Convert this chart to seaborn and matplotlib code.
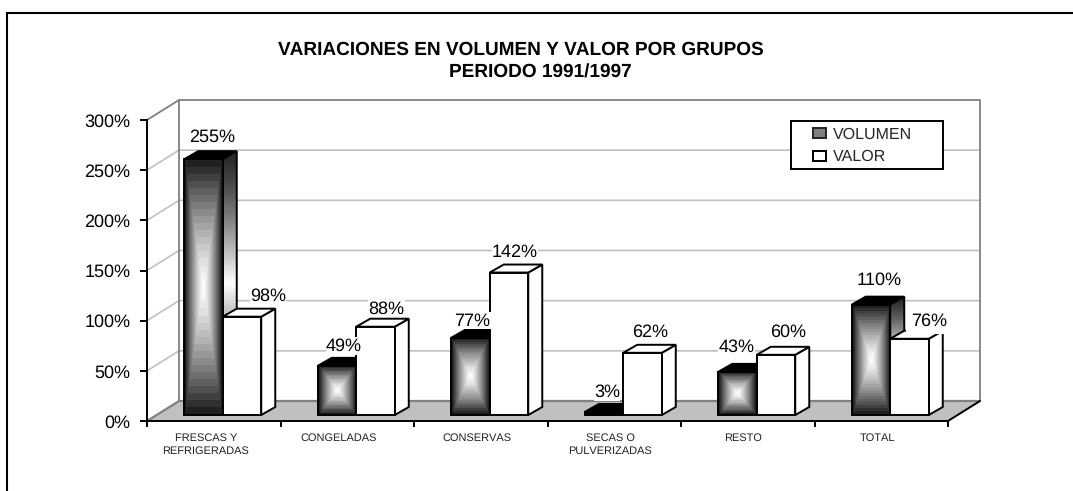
import numpy as np
import pandas as pd
import matplotlib
matplotlib.use('Agg')
import matplotlib.pyplot as plt
from matplotlib.patches import Polygon, Rectangle, Patch
from matplotlib.transforms import Affine2D
import seaborn as sns

grupos = ['FRESCAS Y\nREFRIGERADAS', 'CONGELADAS', 'CONSERVAS',
          'SECAS O\nPULVERIZADAS', 'RESTO', 'TOTAL']
volumen = [255, 49, 77, 3, 43, 110]
valor = [98, 88, 142, 62, 60, 76]
y_ticks = [0, 50, 100, 150, 200, 250, 300]

# hand placement of the labels, in pixels from the top of each bar
vol_nudge = [(9, 22), (7, 20), (2, 17), (3, 20), (-1, 25), (8, 24)]
val_nudge = [(26, 21), (11, 18), (6, 20), (8, 21), (12, 23), (20, 18)]
cat_nudge = [-8, -9, -4, -4, -5, -4]

df = pd.DataFrame({
    'grupo': grupos * 2,
    'pct': volumen + valor,
    'serie': ['VOLUMEN'] * 6 + ['VALOR'] * 6,
})

sns.set_theme(style='white')
plt.rcParams['font.family'] = ['Liberation Sans', 'DejaVu Sans']
plt.rcParams['text.hinting'] = 'no_hinting'
plt.rcParams['text.hinting_factor'] = 1

W, H = 1073, 491
fig = plt.figure(figsize=(W / 100, H / 100), dpi=100)
ax = fig.add_axes([147 / W, (H - 421) / H, 801 / W, 301 / H])
ax.patch.set_alpha(0)

LW = 1.4
sns.barplot(df, x='grupo', y='pct', hue='serie', width=0.577, ax=ax, legend=False,
            palette={'VOLUMEN': '#808080', 'VALOR': 'white'},
            edgecolor='black', linewidth=LW, saturation=1)

ax.set_xlim(-0.5, 5.5)
ax.set_ylim(0, 300)
ux = 6 / 801   # data units for one pixel
uy = 300 / 301


def add_poly(pts, **kw):
    p = Polygon(pts, clip_on=False, **kw)
    ax.add_patch(p)
    return p


# walls and floor
dx, dy = 32 * ux, 20 * uy
x0, x1 = -0.5, 5.5
add_poly([(x0, 0), (x1, 0), (x1 + dx, dy), (x0 + dx, dy)],
         fc='#c0c0c0', ec='none', zorder=1)
for v in y_ticks[1:-1]:
    ax.plot([x0, x0 + dx, x1 + dx], [v, v + dy, v + dy], color='#c0c0c0',
            lw=1.2, clip_on=False, zorder=1.2, solid_joinstyle='miter')
ax.plot([x0, x0 + dx, x1 + dx, x1 + dx], [300, 300 + dy, 300 + dy, dy],
        color='#808080', lw=1.3, clip_on=False, zorder=1.3)
ax.plot([x0, x0 + dx, x1 + dx], [0, dy, dy], color='#808080', lw=1.6,
        clip_on=False, zorder=1.3)
ax.plot([x0 + dx, x0 + dx], [dy, 300 + dy], color='#808080', lw=1.3,
        clip_on=False, zorder=1.3)
ax.plot([x1, x1 + dx], [0, dy], color='black', lw=LW, clip_on=False, zorder=1.4)

# bars sit a little into the floor, with a shallow 3d side and top
sx, sy = 9 * ux, 6 * uy
bx, by = 14 * ux, 8 * uy


def rect_gradient(h):
    n = max(int(h), 12)
    u = np.abs(np.linspace(-1, 1, 76))[None, :]
    v = np.abs(np.linspace(-1, 1, n * 2))[:, None]
    d = np.maximum(u, v)
    d = np.ceil(d * 18) / 18
    return 1 - 0.87 * d ** 1.3


def side_gradient(h):
    t = np.linspace(0, 1, max(int(h), 12))[:, None]
    s = 1 - np.abs(2 * t - 1)
    return 0.15 + 0.85 * s ** 1.3


vol_bars, val_bars = ax.containers[:2]
z = 3
for i in range(len(grupos)):
    for bar, is_vol in ((vol_bars[i], True), (val_bars[i], False)):
        x, w, h = bar.get_x() + sx, bar.get_width(), bar.get_height()
        y = sy
        top = y + h
        side = add_poly([(x + w, y), (x + w + bx, y + by), (x + w + bx, top + by), (x + w, top)],
                        fc='white', ec='black', lw=LW, zorder=z, joinstyle='miter')
        add_poly([(x, top), (x + bx, top + by), (x + w + bx, top + by), (x + w, top)],
                 fc='black' if is_vol else 'white', ec='black', lw=LW, zorder=z,
                 joinstyle='miter')
        bar.set_x(x)
        bar.set_y(y)
        bar.set_clip_on(False)
        bar.set_zorder(z + 0.4)
        bar.set_joinstyle('miter')
        bar.set_facecolor('white')
        if is_vol:
            if h < 8:
                bar.set_facecolor('black')   # too short to show any gradient
            else:
                bar.set_facecolor('none')
                im = ax.imshow(side_gradient(h), extent=(x + w, x + w + bx, y, top + by),
                               cmap='gray', vmin=0, vmax=1, aspect='auto', zorder=z + 0.1)
                im.set_clip_path(side)
                side.set_facecolor('none')
                side.set_zorder(z + 0.2)
                ax.imshow(rect_gradient(h), extent=(x, x + w, y, top), cmap='gray',
                          vmin=0, vmax=1, aspect='auto', zorder=z + 0.3,
                          interpolation='nearest', clip_on=False)
        z += 1

ax.set_xlim(-0.5, 5.5)
ax.set_ylim(0, 300)

# data labels, opaque like the original
for bars, vals, nudges in ((vol_bars, volumen, vol_nudge), (val_bars, valor, val_nudge)):
    for bar, v, n in zip(bars, vals, nudges):
        t = ax.annotate(f'{v}%', xy=(bar.get_x() + bar.get_width() / 2, bar.get_y() + bar.get_height()),
                        xytext=n, textcoords='offset pixels', ha='center', va='center',
                        fontsize=12.8, color='black', zorder=40, annotation_clip=False,
                        bbox=dict(fc='white', ec='none', pad=0.3))
# the 76% label hides the back corner of its bar
t.set_bbox(dict(boxstyle='square,pad=0.3', fc='white', ec='none'))

# axes
for s in ['top', 'right']:
    ax.spines[s].set_visible(False)
for s in ['left', 'bottom']:
    ax.spines[s].set_color('black')
    ax.spines[s].set_linewidth(LW)
    ax.spines[s].set_zorder(2)
ax.set_xlabel('')
ax.set_ylabel('')
ax.set_yticks(y_ticks)
ax.set_yticklabels([f'{v}%' for v in y_ticks], fontsize=12.7, color='black')
ax.tick_params(axis='y', left=True, length=5, width=LW, pad=7, color='black')
ax.set_xticks(range(6))
ax.set_xticklabels(grupos, fontsize=7.7, color='#222222', linespacing=1.3)
ax.set_xticks(np.arange(-0.5, 6, 1), minor=True)
ax.tick_params(axis='x', which='major', bottom=False, length=0, pad=8.5)
ax.tick_params(axis='x', which='minor', bottom=True, length=4.5, width=LW, color='black')
for lab, n in zip(ax.get_xticklabels(), cat_nudge):
    lab.set_transform(lab.get_transform() + Affine2D().translate(n, 0))

# legend
fig.add_artist(Rectangle((791 / W, (H - 169) / H), 152 / W, 48 / H, fc='white', ec='black',
                         lw=LW, transform=fig.transFigure, zorder=50))
lg = fig.legend(handles=[Patch(fc='#808080', ec='#222222', lw=LW), Patch(fc='white', ec='black', lw=LW)],
                labels=['VOLUMEN', 'VALOR'], loc='upper left',
                bbox_to_anchor=(813 / W, (H - 127) / H), bbox_transform=fig.transFigure,
                frameon=False, fontsize=11.2, handlelength=0.85, handleheight=0.65,
                handletextpad=0.45, labelspacing=0.5, borderaxespad=0, borderpad=0)
lg.set_zorder(60)

# outer frame, only top and left edges show
fig.add_artist(plt.Line2D([7 / W, 7 / W, 1], [0, (H - 13) / H, (H - 13) / H], color='black',
                          lw=1.5, transform=fig.transFigure, solid_joinstyle='miter'))

fig.text(521 / W, (H - 50) / H, 'VARIACIONES EN VOLUMEN Y VALOR POR GRUPOS', ha='center',
         va='center', fontsize=13.5, fontweight='bold', color='black')
fig.text(540 / W, (H - 73) / H, 'PERIODO 1991/1997', ha='center', va='center',
         fontsize=13.5, fontweight='bold', color='black')

fig.savefig('out.png', dpi=100)
